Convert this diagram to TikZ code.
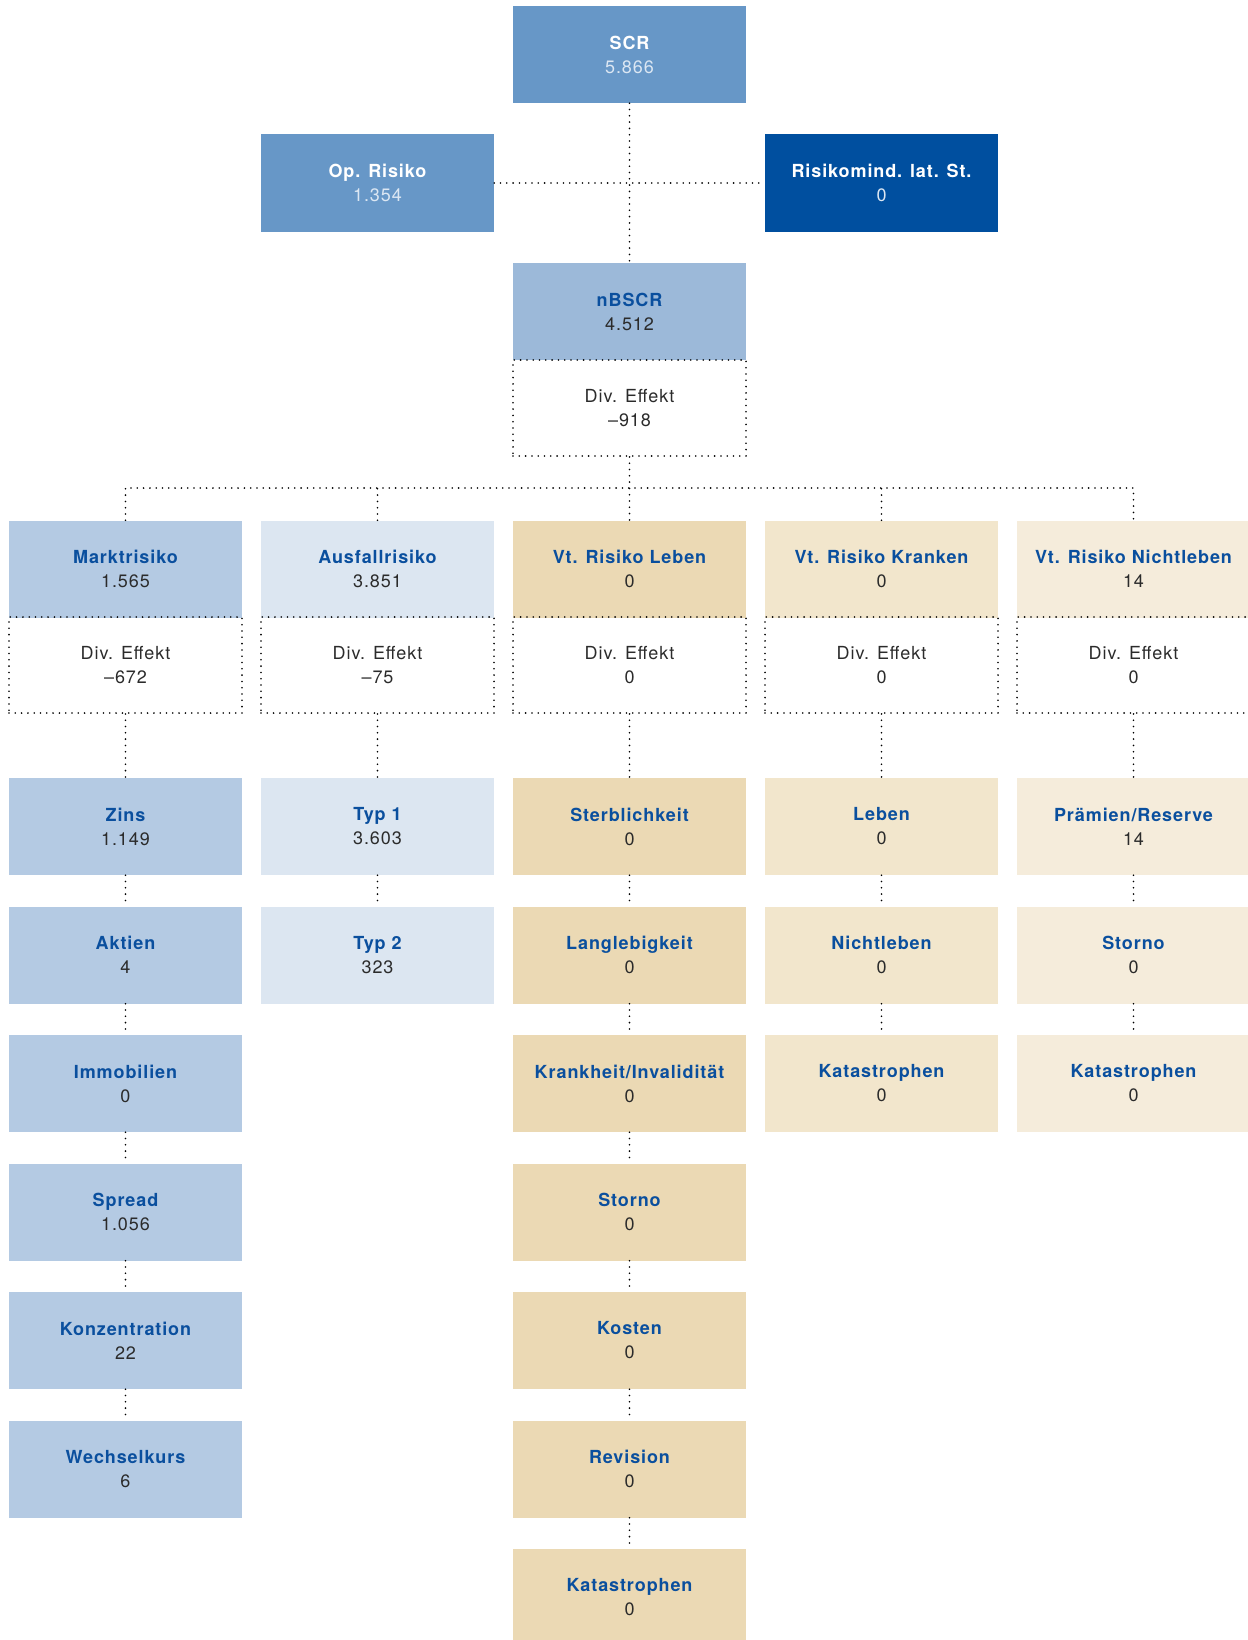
\documentclass[tikz,border=0pt]{standalone}
\usepackage{fontspec}
\setmainfont{TeX Gyre Heros}[LetterSpace=5]
\usepackage{tikz}

\definecolor{ttlblue}{HTML}{0A4F9E}
\definecolor{valgray}{HTML}{2B2B2B}
\definecolor{scrfill}{HTML}{6797C7}
\definecolor{scrval}{HTML}{DCE7F3}
\definecolor{rlstfill}{HTML}{004F9F}
\definecolor{nbfill}{HTML}{9CB9D9}
\definecolor{mktfill}{HTML}{B4CAE3}
\definecolor{ausfill}{HTML}{DCE6F1}
\definecolor{lebfill}{HTML}{EBD9B4}
\definecolor{krkfill}{HTML}{F2E6CC}
\definecolor{nlbfill}{HTML}{F5ECDB}

\newcommand{\riskentry}[2]{{\bfseries\color{ttlblue}#1}\\#2}

\begin{document}
\begin{tikzpicture}[x=1pt, y=-1pt,
  riskbox/.style={rectangle, minimum width=233pt, minimum height=97pt,
    inner sep=0pt, align=center, text=valgray,
    font=\fontsize{18}{24}\selectfont},
  divbox/.style={riskbox, minimum height=96pt, draw=black,
    line width=1.8pt, line cap=round, dash pattern=on 0pt off 6.3pt},
  link/.style={line width=1.8pt, line cap=round, dash pattern=on 0pt off 6.3pt}]

  \useasboundingbox (0,0) rectangle (1247,1640);

  % top
  \node[riskbox, fill=scrfill, text=white] (scr) at (629.5, 54.5)
    {{\bfseries SCR}\\{\color{scrval}5.866}};
  \node[riskbox, fill=scrfill, text=white] (oprisk) at (377.5, 183)
    {{\bfseries Op. Risiko}\\{\color{scrval}1.354}};
  \node[riskbox, fill=rlstfill, text=white] (rlst) at (881.5, 183)
    {{\bfseries Risikomind. lat. St.}\\{\color{scrval}0}};
  \node[riskbox, fill=nbfill] (nbscr) at (629.5, 311.5) {\riskentry{nBSCR}{4.512}};
  \node[divbox] (nbdiv) at (629.5, 408) {Div. Effekt\\–918};

  % modules
  \node[riskbox, fill=mktfill] (markt)   at (125.5, 569)  {\riskentry{Marktrisiko}{1.565}};
  \node[riskbox, fill=ausfill] (ausfall) at (377.5, 569)  {\riskentry{Ausfallrisiko}{3.851}};
  \node[riskbox, fill=lebfill] (leben)   at (629.5, 569)  {\riskentry{Vt. Risiko Leben}{0}};
  \node[riskbox, fill=krkfill] (kranken) at (881.5, 569)  {\riskentry{Vt. Risiko Kranken}{0}};
  \node[riskbox, fill=nlbfill] (nleben)  at (1133.5, 569) {\riskentry{Vt. Risiko Nichtleben}{14}};

  \node[divbox] (mktdiv) at (125.5, 665)  {Div. Effekt\\–672};
  \node[divbox] (ausdiv) at (377.5, 665)  {Div. Effekt\\–75};
  \node[divbox] (lebdiv) at (629.5, 665)  {Div. Effekt\\0};
  \node[divbox] (krkdiv) at (881.5, 665)  {Div. Effekt\\0};
  \node[divbox] (nlbdiv) at (1133.5, 665) {Div. Effekt\\0};

  % Marktrisiko
  \node[riskbox, fill=mktfill] (zins)   at (125.5, 826.5)  {\riskentry{Zins}{1.149}};
  \node[riskbox, fill=mktfill] (aktien) at (125.5, 955)    {\riskentry{Aktien}{4}};
  \node[riskbox, fill=mktfill] (immo)   at (125.5, 1083.5) {\riskentry{Immobilien}{0}};
  \node[riskbox, fill=mktfill] (spread) at (125.5, 1212)   {\riskentry{Spread}{1.056}};
  \node[riskbox, fill=mktfill] (konz)   at (125.5, 1340.5) {\riskentry{Konzentration}{22}};
  \node[riskbox, fill=mktfill] (wkurs)  at (125.5, 1469)   {\riskentry{Wechselkurs}{6}};

  % Ausfallrisiko
  \node[riskbox, fill=ausfill] (typa) at (377.5, 826.5) {\riskentry{Typ 1}{3.603}};
  \node[riskbox, fill=ausfill] (typb) at (377.5, 955)   {\riskentry{Typ 2}{323}};

  % Vt. Risiko Leben
  \node[riskbox, fill=lebfill] (lsterb) at (629.5, 826.5)  {\riskentry{Sterblichkeit}{0}};
  \node[riskbox, fill=lebfill] (llang)  at (629.5, 955)    {\riskentry{Langlebigkeit}{0}};
  \node[riskbox, fill=lebfill] (lkrank) at (629.5, 1083.5) {\riskentry{Krankheit/Invalidität}{0}};
  \node[riskbox, fill=lebfill] (lstorn) at (629.5, 1212)   {\riskentry{Storno}{0}};
  \node[riskbox, fill=lebfill] (lkost)  at (629.5, 1340.5) {\riskentry{Kosten}{0}};
  \node[riskbox, fill=lebfill] (lrev)   at (629.5, 1469)   {\riskentry{Revision}{0}};
  \node[riskbox, fill=lebfill] (lkat)   at (629.5, 1597)   {\riskentry{Katastrophen}{0}};

  % Vt. Risiko Kranken
  \node[riskbox, fill=krkfill] (kleb) at (881.5, 826.5)  {\riskentry{Leben}{0}};
  \node[riskbox, fill=krkfill] (knl)  at (881.5, 955)    {\riskentry{Nichtleben}{0}};
  \node[riskbox, fill=krkfill] (kkat) at (881.5, 1083.5) {\riskentry{Katastrophen}{0}};

  % Vt. Risiko Nichtleben
  \node[riskbox, fill=nlbfill] (npr)  at (1133.5, 826.5)  {\riskentry{Prämien/Reserve}{14}};
  \node[riskbox, fill=nlbfill] (nsto) at (1133.5, 955)    {\riskentry{Storno}{0}};
  \node[riskbox, fill=nlbfill] (nkat) at (1133.5, 1083.5) {\riskentry{Katastrophen}{0}};

  % connectors
  \coordinate (bus) at (629.5, 488);
  \draw[link] (scr.south) -- (nbscr.north);
  \draw[link] (oprisk.east) -- (rlst.west);
  \draw[link] (nbdiv.south) -- (leben.north);
  \draw[link] (markt.north) |- (bus) -| (nleben.north);
  \draw[link] (ausfall.north) -- (ausfall.north |- bus);
  \draw[link] (kranken.north) -- (kranken.north |- bus);

  \foreach \a/\b in {mktdiv/zins, zins/aktien, aktien/immo, immo/spread,
      spread/konz, konz/wkurs, ausdiv/typa, typa/typb,
      lebdiv/lsterb, lsterb/llang, llang/lkrank, lkrank/lstorn,
      lstorn/lkost, lkost/lrev, lrev/lkat,
      krkdiv/kleb, kleb/knl, knl/kkat,
      nlbdiv/npr, npr/nsto, nsto/nkat}
    \draw[link] (\a.south) -- (\b.north);

\end{tikzpicture}
\end{document}
